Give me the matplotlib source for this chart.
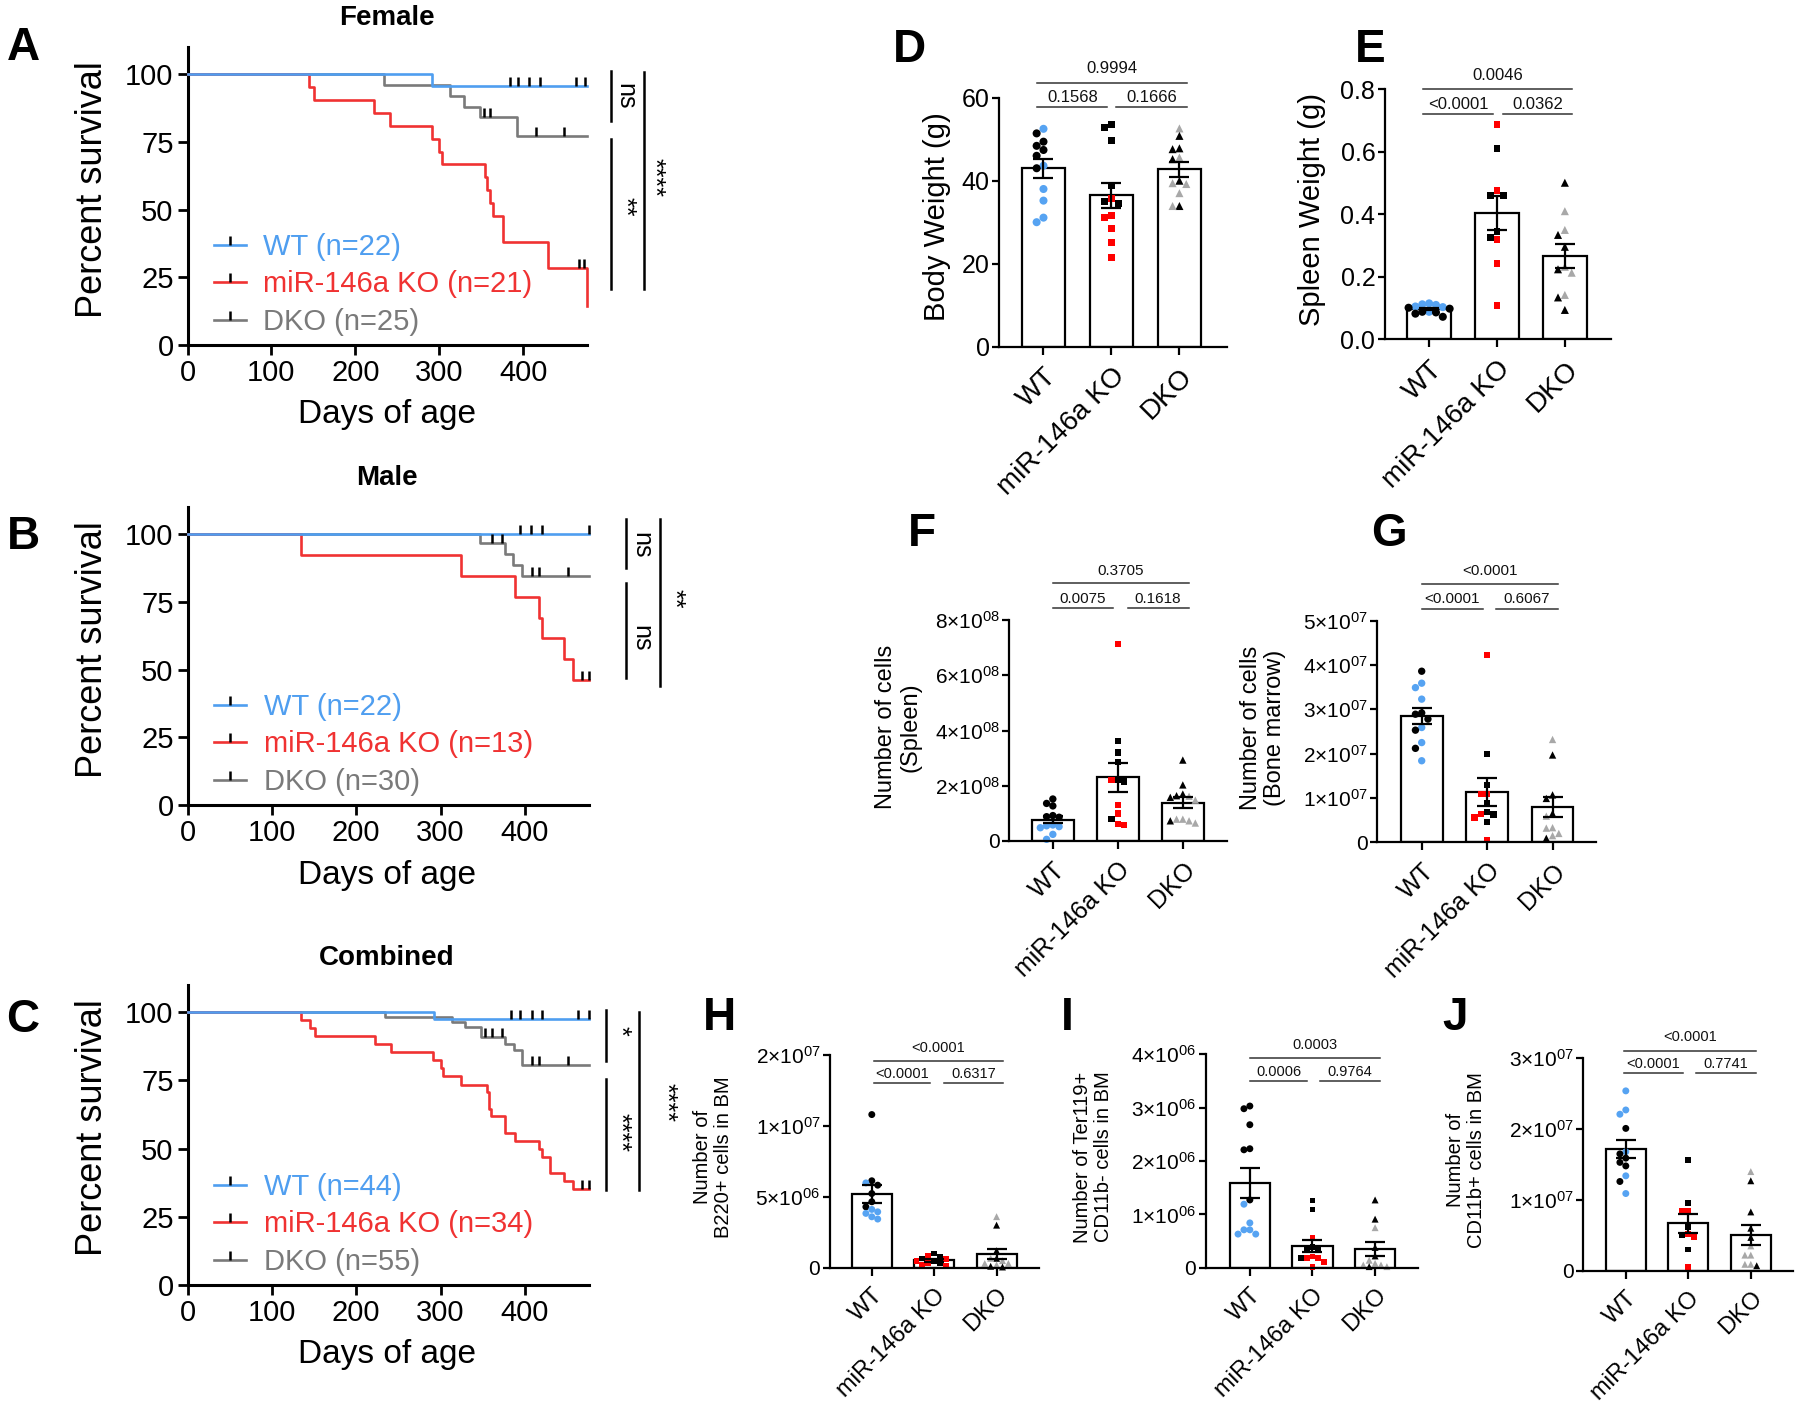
import matplotlib
matplotlib.use("Agg")
import matplotlib.pyplot as plt
import numpy as np
from matplotlib.lines import Line2D
from matplotlib.ticker import FixedLocator, FixedFormatter
from matplotlib.transforms import blended_transform_factory

# ===== 基本設定 =====
W, H = 1800, 1402
FONT = "Liberation Sans"
plt.rcParams["font.family"] = FONT
plt.rcParams["mathtext.fontset"] = "custom"
plt.rcParams["mathtext.rm"] = FONT
plt.rcParams["mathtext.it"] = FONT + ":italic"
plt.rcParams["mathtext.bf"] = FONT + ":bold"

LINE_COLS = ["#4f9ef0", "#f03232", "#7a7a7a"]
DOT_COLS = ["#56a3f2", "#ff0000", "#a8a8a8"]
MARKERS = ["o", "s", "^"]
GROUPS = ["WT", "miR-146a KO", "DKO"]

# ===== 生存曲線データ（日齢, 生存率%, 打ち切り日） =====
END_DAY = 476

fem_wt_t = [0, 291]
fem_wt_s = [100, 95.5]
fem_wt_cens = [384, 394, 407, 420, 463, 474]
fem_ko_t = [0, 145, 151, 222, 241, 291, 300, 303, 355, 357, 360, 364, 376, 430, 476]
fem_ko_s = [100, 95.2, 90.5, 85.7, 81.0, 76.2, 71.4, 66.7, 61.9, 57.1, 52.4, 47.6, 38.1, 28.6, 14.3]
fem_ko_cens = [466, 473]
fem_dko_t = [0, 234, 313, 329, 348, 392]
fem_dko_s = [100, 96, 92, 88, 84, 77]
fem_dko_cens = [353, 361, 415, 449]
fem_n = [22, 21, 25]

male_wt_t = [0]
male_wt_s = [100]
male_wt_cens = [394, 407, 420, 476]
male_ko_t = [0, 135, 324, 388, 417, 420, 446, 457]
male_ko_s = [100, 92.3, 84.6, 76.9, 69.2, 61.5, 53.8, 46.2]
male_ko_cens = [468, 476]
male_dko_t = [0, 347, 376, 386, 397]
male_dko_s = [100, 96.7, 92.6, 88.5, 84.4]
male_dko_cens = [361, 373, 409, 417, 451]
male_n = [22, 13, 30]

all_wt_t = [0, 292]
all_wt_s = [100, 97.7]
all_wt_cens = [384, 394, 408, 420, 463, 476]
all_ko_t = [0, 135, 145, 151, 222, 241, 291, 300, 303, 324, 355, 357, 360, 376, 388, 417, 420, 430, 446, 457]
all_ko_s = [100, 97.1, 94.1, 91.2, 88.2, 85.3, 82.4, 79.4, 76.5, 73.5, 70.6, 64.7, 61.8, 55.9, 52.9, 50.0, 47.1, 41.2, 38.2, 35.3]
all_ko_cens = [468, 476]
all_dko_t = [0, 234, 313, 329, 348, 376, 387, 396]
all_dko_s = [100, 98.2, 96.4, 94.5, 91.0, 88.5, 86.0, 80.8]
all_dko_cens = [353, 361, 373, 408, 417, 451]
all_n = [44, 34, 55]

# ===== 棒グラフデータ（個体値, c=群の色 / k=黒） =====
body_wt = [52.5, 51.4, 49.4, 48.4, 47.4, 46.0, 43.6, 43.0, 38.0, 35.2, 31.1, 30.0]
body_ko = [53.6, 52.8, 49.6, 38.8, 35.8, 35.0, 34.6, 31.7, 31.2, 28.4, 25.1, 21.4]
body_dko = [52.6, 50.8, 47.8, 47.6, 45.6, 45.2, 40.0, 39.4, 39.2, 37.0, 33.9, 33.9]
body_col = ["ckkkkkckcccc", "kkkkckkccccc", "ckkkckkccckc"]
body_p = ["0.1568", "0.1666", "0.9994"]

spleen_wt = [0.115, 0.112, 0.110, 0.105, 0.103, 0.101, 0.098, 0.088, 0.088, 0.086, 0.082, 0.072]
spleen_ko = [0.688, 0.611, 0.475, 0.459, 0.459, 0.344, 0.326, 0.320, 0.243, 0.109]
spleen_dko = [0.501, 0.410, 0.350, 0.334, 0.296, 0.232, 0.224, 0.213, 0.142, 0.134, 0.094]
spleen_col = ["ccccckkckkkk", "ckckkkkccc", "kcckkckcckk"]
spleen_p = ["<0.0001", "0.0362", "0.0046"]

spc_wt = [1.52e8, 1.36e8, 1.27e8, 0.92e8, 0.88e8, 0.86e8, 0.58e8, 0.55e8, 0.52e8, 0.48e8, 0.24e8, 0.06e8]
spc_ko = [7.12e8, 3.62e8, 3.20e8, 2.87e8, 2.23e8, 2.21e8, 2.15e8, 1.30e8, 1.00e8, 0.79e8, 0.62e8, 0.58e8]
spc_dko = [2.93e8, 2.03e8, 1.70e8, 1.64e8, 1.62e8, 1.58e8, 1.48e8, 0.79e8, 0.79e8, 0.73e8, 0.73e8, 0.65e8]
spc_col = ["kkkkkkcccccc", "ckkkkckcckcc", "kkkkckcccckc"]
spc_p = ["0.0075", "0.1618", "0.3705"]

bmc_wt = [3.86e7, 3.59e7, 3.49e7, 3.23e7, 2.92e7, 2.89e7, 2.78e7, 2.59e7, 2.53e7, 2.25e7, 2.12e7, 1.84e7]
bmc_ko = [4.23e7, 1.99e7, 1.29e7, 1.09e7, 1.09e7, 0.89e7, 0.68e7, 0.64e7, 0.63e7, 0.56e7, 0.45e7, 0.05e7]
bmc_dko = [2.32e7, 1.97e7, 1.07e7, 0.99e7, 0.65e7, 0.59e7, 0.33e7, 0.32e7, 0.20e7, 0.15e7, 0.09e7]
bmc_col = ["kccckkkckckc", "ckkcckkckckc", "ckkkkccccck"]
bmc_p = ["<0.0001", "0.6067", "<0.0001"]

b220_wt = [1.16e7, 6.13e6, 5.98e6, 5.82e6, 5.23e6, 4.65e6, 4.29e6, 4.11e6, 3.94e6, 3.83e6, 3.59e6, 3.43e6]
b220_ko = [1.00e6, 0.85e6, 0.78e6, 0.65e6, 0.60e6, 0.45e6, 0.45e6, 0.35e6, 0.30e6, 0.20e6, 0.10e6]
b220_dko = [3.6e6, 3.0e6, 1.2e6, 0.66e6, 0.66e6, 0.5e6, 0.3e6, 0.3e6, 0.2e6, 0.1e6, 0.05e6]
b220_col = ["kkckkkkccccc", "kckkckcckcc", "ckkkccccckk"]
b220_p = ["<0.0001", "0.6317", "<0.0001"]

ter_wt = [3.03e6, 2.98e6, 2.68e6, 2.23e6, 2.21e6, 1.27e6, 1.19e6, 0.84e6, 0.71e6, 0.71e6, 0.63e6, 0.63e6]
ter_ko = [1.26e6, 1.09e6, 0.56e6, 0.38e6, 0.36e6, 0.33e6, 0.21e6, 0.19e6, 0.19e6, 0.18e6, 0.11e6, 0.02e6]
ter_dko = [1.27e6, 0.91e6, 0.75e6, 0.38e6, 0.22e6, 0.14e6, 0.08e6, 0.05e6, 0.05e6, 0.02e6, 0.02e6]
ter_col = ["kkkkkkcccccc", "kkckkkccckcc", "kkckkcccckc"]
ter_p = ["0.0006", "0.9764", "0.0003"]

cd11_wt = [2.54e7, 2.27e7, 2.21e7, 2.01e7, 1.68e7, 1.65e7, 1.59e7, 1.53e7, 1.48e7, 1.34e7, 1.26e7, 1.09e7]
cd11_ko = [1.56e7, 0.95e7, 0.85e7, 0.85e7, 0.62e7, 0.52e7, 0.50e7, 0.47e7, 0.30e7, 0.05e7]
cd11_dko = [1.40e7, 1.27e7, 0.83e7, 0.60e7, 0.47e7, 0.35e7, 0.22e7, 0.22e7, 0.09e7, 0.09e7, 0.07e7]
cd11_col = ["ccckckkkkckc", "kkcckckckc", "ckkkkccccck"]
cd11_p = ["<0.0001", "0.7741", "<0.0001"]

fig = plt.figure(figsize=(W / 100, H / 100), dpi=100)


def add_ax(left, top, right, bottom):
    return fig.add_axes([left / W, 1 - bottom / H, (right - left) / W, (bottom - top) / H])


def ftext(x, y, s, **kw):
    fig.text(x / W, 1 - y / H, s, ha="center", va="center", **kw)


# ===== 生存曲線パネル =====
def survival(rect, curves, ns, sig_lines, sig_texts):
    ax = add_ax(*rect)
    # WTの線を一番上に描く
    for (t, s, cens), col, z in zip(curves, LINE_COLS, [5, 4, 3]):
        t = np.asarray(t, float)
        s = np.asarray(s, float)
        ax.plot(np.append(t, END_DAY), np.append(s, s[-1]), drawstyle="steps-post",
                color=col, lw=1.9, zorder=z, clip_on=False)
        idx = np.searchsorted(t, cens, side="right") - 1
        ax.plot(cens, s[idx], ls="none", marker=2, ms=6.5, mew=1.8, color="k", zorder=6, clip_on=False)
    ax.set_xlim(0, END_DAY)
    ax.set_ylim(0, 110)
    ax.set_xticks([0, 100, 200, 300, 400])
    ax.set_yticks([0, 25, 50, 75, 100])
    ax.tick_params(length=7, width=2, labelsize=21, pad=3)
    for sp in ["top", "right"]:
        ax.spines[sp].set_visible(False)
    for sp in ["left", "bottom"]:
        ax.spines[sp].set_linewidth(2.2)
    handles = [Line2D([], [], color=c, lw=1.9, marker=2, ms=6.5, mew=1.8, mec="k") for c in LINE_COLS]
    labels = [f"{g} (n={n})" for g, n in zip(GROUPS, ns)]
    ax.legend(handles, labels, loc="lower left", bbox_to_anchor=(0.066, 0.03), frameon=False,
              prop={"size": 21}, handlelength=1.1, handletextpad=0.6, labelspacing=0.33,
              borderpad=0, borderaxespad=0, numpoints=1, labelcolor=LINE_COLS)
    for x, y0, y1 in sig_lines:
        ax.plot([x, x], [y0, y1], color="k", lw=1.8, clip_on=False)
    for x, y, s in sig_texts:
        ax.text(x, y, s, rotation=-90, ha="center", va="center", fontsize=18, clip_on=False)
    return ax


survival((187.5, 47, 587, 345),
         [(fem_wt_t, fem_wt_s, fem_wt_cens), (fem_ko_t, fem_ko_s, fem_ko_cens),
          (fem_dko_t, fem_dko_s, fem_dko_cens)], fem_n,
         [(505, 82.6, 101), (505, 20.7, 76), (544, 20.7, 100.7)],
         [(522, 92, "ns"), (521, 51, "**"), (556, 62, "****")])
survival((187.5, 507, 589, 805),
         [(male_wt_t, male_wt_s, male_wt_cens), (male_ko_t, male_ko_s, male_ko_cens),
          (male_dko_t, male_dko_s, male_dko_cens)], male_n,
         [(520, 87.5, 105.5), (520, 47, 82), (560, 44, 105.5)],
         [(538, 96, "ns"), (538, 61.6, "ns"), (577, 76, "**")])
survival((187.5, 985, 589, 1285),
         [(all_wt_t, all_wt_s, all_wt_cens), (all_ko_t, all_ko_s, all_ko_cens),
          (all_dko_t, all_dko_s, all_dko_cens)], all_n,
         [(496, 82, 100.7), (496, 35, 75.6), (535, 35, 100)],
         [(512, 93, "*"), (512, 56, "****"), (567, 67, "****")])

for (ty, xy, yy), title in zip([(18, 415, 190), (478, 875, 650), (958, 1355, 1128)],
                               ["Female", "Male", "Combined"]):
    ftext(387, ty, title, fontsize=20, fontweight="bold")
    ftext(387, xy, "Days of age", fontsize=24)
    ftext(92, yy, "Percent survival", fontsize=26, rotation=90)


# ===== 棒グラフパネル =====
def split_fwd(v):
    v = np.asarray(v, float)
    return np.where(v <= 1e7, v, 1e7 + (v - 1e7) / 2)


def split_inv(u):
    u = np.asarray(u, float)
    return np.where(u <= 1e7, u, 1e7 + (u - 1e7) * 2)


def sci(v):
    if v == 0:
        return "0"
    e = int(np.floor(np.log10(v) + 1e-9))
    return rf"${v / 10 ** e:g}{{\times}}10^{{{e:02d}}}$"


def swarm(ax, xc, vals, d):
    ypx = ax.transData.transform(np.column_stack([np.full(len(vals), xc), vals]))[:, 1]
    offs = np.zeros(len(vals))
    placed = []
    for i in np.argsort(-np.asarray(vals), kind="stable"):
        for k in [0, -1, 1, -2, 2, -3, 3, -4, 4, -5, 5, -6, 6]:
            dx = k * d
            if all(np.hypot(dx - px, ypx[i] - py) >= d * 0.999 for px, py in placed):
                break
        placed.append((dx, ypx[i]))
        offs[i] = dx
    unit = ax.transData.transform((1, 0))[0] - ax.transData.transform((0, 0))[0]
    return xc + offs / unit


def bar_panel(rect, xlim, groups, cols, yticks, ylabels, ylab, ylab_xy, sizes, pvals, brk,
              ms, split=False):
    lab_size, tick_size, xtick_size, p_size = sizes
    ax = add_ax(*rect)
    if split:
        ax.set_yscale("function", functions=(split_fwd, split_inv))
    ax.set_xlim(*xlim)
    ax.set_ylim(yticks[0], yticks[-1])
    means = [np.mean(g) for g in groups]
    sems = [np.std(g, ddof=1) / np.sqrt(len(g)) for g in groups]
    ax.bar(range(3), means, width=0.64, color="white", edgecolor="k", lw=1.6, zorder=1)
    d = 0.85 * ms * 100 / 72
    for i, (g, fl) in enumerate(zip(groups, cols)):
        xs = swarm(ax, i, g, d)
        cs = [DOT_COLS[i] if f == "c" else "k" for f in fl]
        size = ms * (0.85 if MARKERS[i] == "s" else 1.0)
        ax.scatter(xs, g, s=size ** 2, c=cs, marker=MARKERS[i], linewidths=0, zorder=2, clip_on=False)
    ax.errorbar(range(3), means, yerr=sems, fmt="none", ecolor="k", elinewidth=1.6,
                capsize=7.5, capthick=1.6, zorder=3)
    ax.yaxis.set_major_locator(FixedLocator(yticks))
    ax.yaxis.set_major_formatter(FixedFormatter(ylabels))
    ax.set_xticks([0, 1, 2])
    ax.set_xticklabels(GROUPS, rotation=45, ha="right", va="top", rotation_mode="anchor",
                       fontsize=xtick_size)
    ax.tick_params(axis="y", length=5, width=1.6, labelsize=tick_size, pad=2)
    ax.tick_params(axis="x", length=6, width=1.6, pad=6)
    for sp in ["top", "right"]:
        ax.spines[sp].set_visible(False)
    for sp in ["left", "bottom"]:
        ax.spines[sp].set_linewidth(1.6)
    ftext(ylab_xy[0], ylab_xy[1], ylab, fontsize=lab_size, rotation=90, linespacing=1.15)
    # p値のブラケット
    x0, x1, x2, x3, yl, yt, tl, tt = brk
    tr = blended_transform_factory(ax.transData, ax.transAxes)
    for (a, b, y), (tx, ty), p in zip([(x0, x1, yl), (x2, x3, yl), (x0, x3, yt)],
                                     [((x0 + x1) / 2, tl), ((x2 + x3) / 2, tl), ((x0 + x3) / 2, tt)],
                                     pvals):
        ax.plot([a, b], [y, y], transform=tr, color="#333333", lw=1.1, clip_on=False)
        ax.text(tx, ty, p, transform=tr, ha="center", va="center", fontsize=p_size, color="#111111")
    return ax


bar_panel((999.3, 97.7, 1227, 346.7), (-0.65, 2.7), [body_wt, body_ko, body_dko], body_col,
          [0, 20, 40, 60], ["0", "20", "40", "60"], "Body Weight (g)", (937, 217),
          (21, 18, 20, 12), body_p, (-0.09, 0.94, 1.07, 2.11, 0.961, 1.06, 0.999, 1.119), 5.8)
bar_panel((1385, 89.3, 1611, 339.3), (-0.65, 2.68), [spleen_wt, spleen_ko, spleen_dko], spleen_col,
          [0, 0.2, 0.4, 0.6, 0.8], ["0.0", "0.2", "0.4", "0.6", "0.8"], "Spleen Weight (g)", (1312, 209),
          (21, 18, 20, 12), spleen_p, (-0.09, 0.94, 1.09, 2.10, 0.901, 1.0, 0.941, 1.057), 5.8)

t = [0, 2e8, 4e8, 6e8, 8e8]
bar_panel((1009.3, 620, 1227, 841), (-0.67, 2.68), [spc_wt, spc_ko, spc_dko], spc_col,
          t, [sci(v) for v in t], "Number of cells\n(Spleen)", (898, 727),
          (17, 15, 18, 11), spc_p, (0.0, 0.93, 1.15, 2.09, 1.054, 1.166, 1.095, 1.223), 5.3)
t = [0, 1e7, 2e7, 3e7, 4e7, 5e7]
bar_panel((1377.2, 620.7, 1596.4, 842.3), (-0.68, 2.67), [bmc_wt, bmc_ko, bmc_dko], bmc_col,
          t, [sci(v) for v in t], "Number of cells\n(Bone marrow)", (1263, 728),
          (17, 15, 18, 11), bmc_p, (0.0, 0.93, 1.14, 2.08, 1.053, 1.164, 1.098, 1.226), 5.3)
t = [0, 5e6, 1e7, 2e7]
bar_panel((830, 1055, 1039, 1267.7), (-0.67, 2.68), [b220_wt, b220_ko, b220_dko], b220_col,
          t, [sci(v) for v in t], "Number of\nB220+ cells in BM", (713, 1157),
          (14.5, 15, 17, 10.5), b220_p, (0.03, 0.94, 1.16, 2.1, 0.87, 0.972, 0.911, 1.031), 5.0,
          split=True)
t = [0, 1e6, 2e6, 3e6, 4e6]
bar_panel((1206, 1054.3, 1418.3, 1267.7), (-0.70, 2.69), [ter_wt, ter_ko, ter_dko], ter_col,
          t, [sci(v) for v in t], "Number of Ter119+\nCD11b- cells in BM", (1093, 1157),
          (14.5, 15, 17, 10.5), ter_p, (0.0, 0.92, 1.12, 2.08, 0.875, 0.981, 0.918, 1.044), 5.0)
t = [0, 1e7, 2e7, 3e7]
bar_panel((1583.3, 1058.3, 1793.3, 1270.7), (-0.68, 2.68), [cd11_wt, cd11_ko, cd11_dko], cd11_col,
          t, [sci(v) for v in t], "Number of\nCD11b+ cells in BM", (1466, 1160),
          (14.5, 15, 17, 10.5), cd11_p, (-0.03, 0.92, 1.13, 2.08, 0.929, 1.034, 0.973, 1.099), 5.0)

# ===== パネル記号 =====
for s, x, y in [("A", 23, 48), ("B", 23, 537), ("C", 23, 1020), ("D", 909, 50), ("E", 1370, 50),
                ("F", 922, 534), ("G", 1389, 534), ("H", 719, 1018), ("I", 1067, 1018), ("J", 1455, 1018)]:
    ftext(x, y, s, fontsize=33, fontweight="bold")

fig.savefig("out.png", dpi=100)
